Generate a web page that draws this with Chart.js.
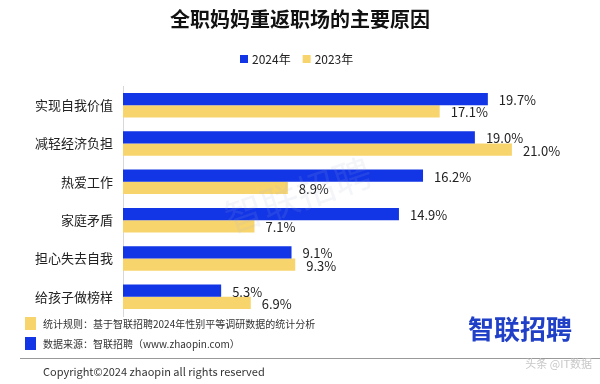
<!DOCTYPE html>
<html>
<head>
<meta charset="utf-8">
<script src="https://cdn.jsdelivr.net/npm/chart.js@4"></script>
<style>
  html, body { margin: 0; padding: 0; background: #fff; }
  #wrap { width: 600px; height: 384px; }
</style>
</head>
<body>
<div id="wrap"><canvas id="reasonChart"></canvas></div>
<script>
// chart data
const titleText = '全职妈妈重返职场的主要原因';
const categories = ['实现自我价值', '减轻经济负担', '热爱工作', '家庭矛盾', '担心失去自我', '给孩子做榜样'];
const seriesNames = ['2024年', '2023年'];
const values2024 = [19.7, 19.0, 16.2, 14.9, 9.1, 5.3];
const values2023 = [17.1, 21.0, 8.9, 7.1, 9.3, 6.9];
const noteRule = '统计规则：基于智联招聘2024年性别平等调研数据的统计分析';
const noteSource = '数据来源：智联招聘（www.zhaopin.com）';
const copyrightText = 'Copyright©2024 zhaopin all rights reserved';

const BLUE = '#1235e6';
const YELLOW = '#f8d56c';
const FONT = '"Noto Sans CJK SC", "Noto Sans", sans-serif';

// draws value labels, title, legend and footer
const decorPlugin = {
  id: 'decor',
  afterDatasetsDraw(chart) {
    const ctx = chart.ctx;
    ctx.save();
    ctx.font = '13px ' + FONT;
    ctx.fillStyle = '#222';
    ctx.textAlign = 'left';
    ctx.textBaseline = 'middle';
    chart.data.datasets.forEach((ds, i) => {
      chart.getDatasetMeta(i).data.forEach((bar, j) => {
        ctx.fillText(ds.data[j].toFixed(1) + '%', bar.x + 11, bar.y + 1);
      });
    });
    ctx.restore();
  },
  afterDraw(chart) {
    const ctx = chart.ctx;
    ctx.save();

    // faint watermark inside the plot
    ctx.save();
    ctx.translate(298, 195);
    ctx.rotate(-0.33);
    ctx.font = '38px ' + FONT;
    ctx.fillStyle = 'rgba(160,180,210,0.13)';
    ctx.textAlign = 'center';
    ctx.textBaseline = 'middle';
    ctx.fillText('智联招聘', 0, 0);
    ctx.restore();

    // title
    ctx.font = 'bold 20px ' + FONT;
    ctx.fillStyle = '#111';
    ctx.textAlign = 'center';
    ctx.textBaseline = 'middle';
    ctx.fillText(titleText, 300, 19);

    // legend
    ctx.font = '12px ' + FONT;
    ctx.textAlign = 'left';
    let lx = 240;
    chart.data.datasets.forEach((ds) => {
      ctx.fillStyle = ds.backgroundColor;
      ctx.fillRect(lx, 55, 8, 8);
      ctx.fillStyle = '#222';
      ctx.fillText(ds.label, lx + 12, 59);
      lx += 12 + ctx.measureText(ds.label).width + 12;
    });

    // footer notes
    ctx.font = '10px ' + FONT;
    ctx.fillStyle = YELLOW;
    ctx.fillRect(25, 317, 11, 13);
    ctx.fillStyle = BLUE;
    ctx.fillRect(25, 337, 11, 13);
    ctx.fillStyle = '#333';
    ctx.fillText(noteRule, 43, 324);
    ctx.fillText(noteSource, 43, 344);

    ctx.strokeStyle = '#999';
    ctx.lineWidth = 1;
    ctx.beginPath();
    ctx.moveTo(20, 358.5);
    ctx.lineTo(600, 358.5);
    ctx.stroke();

    ctx.font = '11px ' + FONT;
    ctx.fillStyle = '#333';
    ctx.fillText(copyrightText, 43, 372);

    // logo
    ctx.font = 'bold 26px ' + FONT;
    ctx.fillStyle = '#2140c8';
    ctx.textAlign = 'right';
    ctx.fillText('智联招聘', 572, 329);

    ctx.font = '11px ' + FONT;
    ctx.fillStyle = '#c8c8c8';
    ctx.fillText('头条 @IT数据', 592, 364);

    ctx.restore();
  }
};

document.addEventListener('DOMContentLoaded', function () {
  const ctx = document.getElementById('reasonChart').getContext('2d');
  new Chart(ctx, {
    type: 'bar',
    data: {
      labels: categories,
      datasets: [
        { label: seriesNames[0], data: values2024, backgroundColor: BLUE },
        { label: seriesNames[1], data: values2023, backgroundColor: YELLOW }
      ]
    },
    options: {
      indexAxis: 'y',
      responsive: true,
      maintainAspectRatio: false,
      animation: false,
      datasets: {
        bar: { categoryPercentage: 0.64, barPercentage: 1.0 }
      },
      layout: { padding: { top: 86, bottom: 68, left: 0, right: 14 } },
      plugins: {
        legend: { display: false },
        title: { display: false },
        tooltip: { enabled: false }
      },
      scales: {
        x: {
          display: false,
          min: 0,
          max: 25
        },
        y: {
          afterFit(scale) { scale.width = 123; },
          grid: { display: false, drawTicks: false },
          border: { display: true, color: '#d8d8d8', width: 1 },
          ticks: {
            padding: 10,
            color: '#222',
            font: { size: 13, family: FONT }
          }
        }
      }
    },
    plugins: [decorPlugin]
  });
});
</script>
</body>
</html>
